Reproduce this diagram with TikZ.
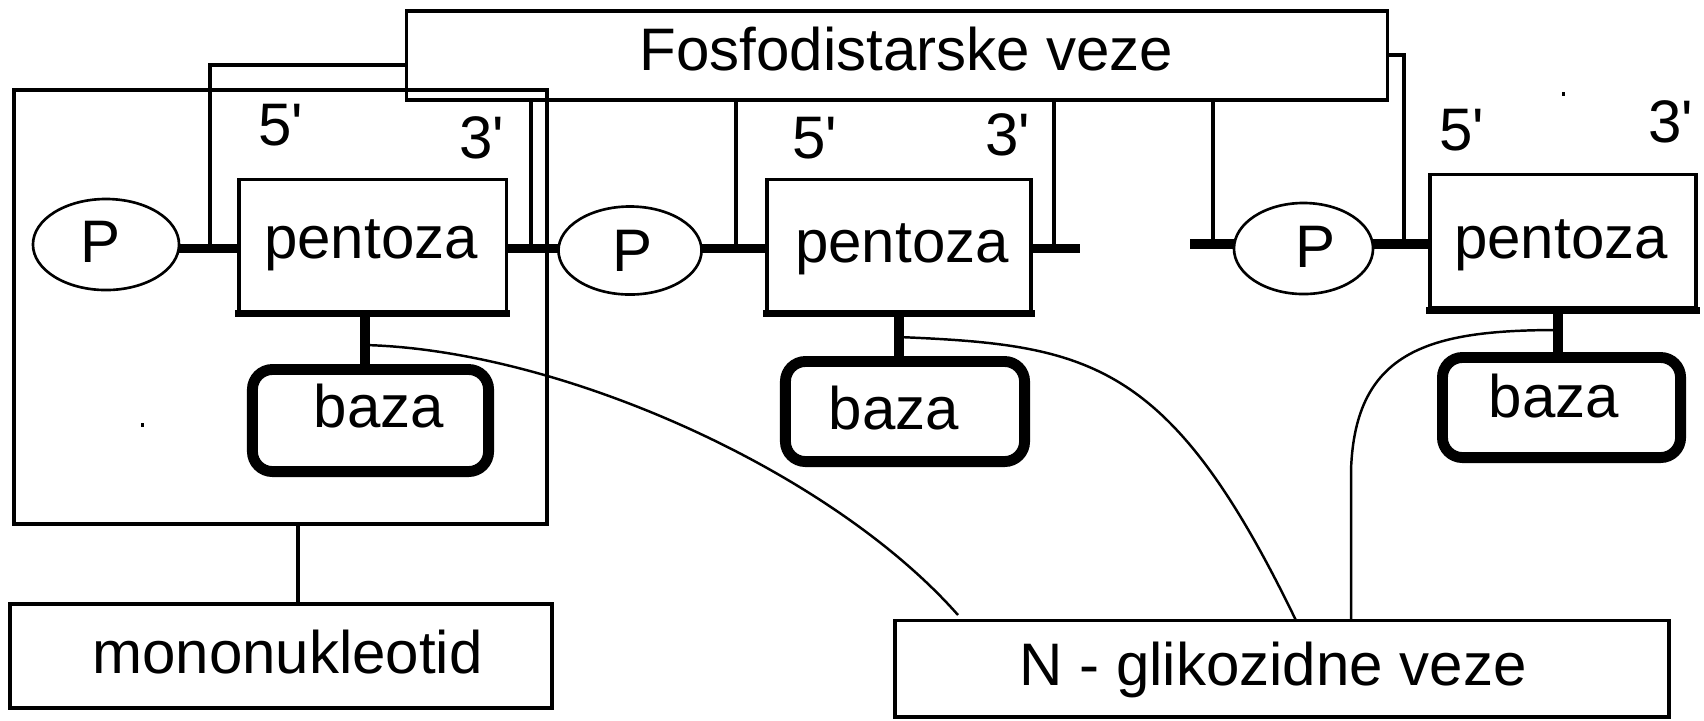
\documentclass[tikz,border=0pt]{standalone}
\usepackage{fontspec}
\setmainfont{Liberation Sans}
\usetikzlibrary{shapes.geometric}
\begin{document}
\begin{tikzpicture}[x=0.01cm,y=-0.01cm,
  every node/.style={inner sep=0pt, outer sep=0pt},
  frame/.style={draw, line width=1pt, rectangle},
  penbox/.style={draw, line width=1pt, rectangle},
  pgroup/.style={draw, line width=0.75pt, ellipse},
  bazabox/.style={draw, line width=3.1pt, rounded corners=0.2cm, rectangle},
  bond/.style={line width=2.6pt},
  stembar/.style={line width=3.1pt},
  link/.style={line width=1pt},
  curvelink/.style={line width=0.7pt},
  penbottom/.style={line width=2pt, line cap=rect},
  lbl/.style={anchor=base, font=\fontsize{17.07pt}{20pt}\selectfont}
]
\useasboundingbox (0,0) rectangle (1704,720);

% frames and boxes
\node[frame, minimum width=9.80cm, minimum height=0.89cm] (fos) at (897,55.5) {};
\node[lbl] (fost) at (906.5,70) {Fosfodistarske veze};
\node[frame, minimum width=5.33cm, minimum height=4.34cm] (nuc) at (280.5,307) {};
\node[frame, minimum width=5.415cm, minimum height=1.04cm] (mono) at (281,656) {};
\node[lbl] (monot) at (287.5,673) {mononukleotid};
\node[frame, minimum width=7.735cm, minimum height=0.965cm] (gly) at (1281.75,668.75) {};
\node[lbl] (glyt) at (1273,685) {N - glikozidne veze};

% pentoses
\node[penbox, minimum width=2.675cm, minimum height=1.32cm] (pen1) at (372.75,245.5) {};
\node[penbox, minimum width=2.64cm, minimum height=1.32cm] (pen2) at (899,245.5) {};
\node[penbox, minimum width=2.66cm, minimum height=1.335cm] (pen3) at (1563,241.25) {};
\draw[penbottom] ([yshift=-0.02cm]pen1.south west) -- ([yshift=-0.02cm]pen1.south east);
\draw[penbottom] ([yshift=-0.02cm]pen2.south west) -- ([yshift=-0.02cm]pen2.south east);
\draw[penbottom] ([yshift=-0.02cm]pen3.south west) -- ([yshift=-0.02cm]pen3.south east);
\node[lbl] (pt1) at (371,258) {pentoza};
\node[lbl] (pt2) at (902,262) {pentoza};
\node[lbl] (pt3) at (1561,258) {pentoza};

% phosphates
\node[pgroup, minimum width=1.46cm, minimum height=0.91cm] (P1) at (106,244.5) {};
\node[pgroup, minimum width=1.43cm, minimum height=0.88cm] (P2) at (630,250.5) {};
\node[pgroup, minimum width=1.39cm, minimum height=0.91cm] (P3) at (1303.5,248.5) {};
\node[lbl] (Pt1) at (101,262) {P};
\node[lbl] (Pt2) at (633,271) {P};
\node[lbl] (Pt3) at (1315,267) {P};

% bases
\node[bazabox, minimum width=2.36cm, minimum height=1.02cm] (baza1) at (370.5,420.5) {};
\node[bazabox, minimum width=2.39cm, minimum height=1.00cm] (baza2) at (905,411.5) {};
\node[bazabox, minimum width=2.38cm, minimum height=1.00cm] (baza3) at (1561.5,407.5) {};
\node[lbl] (bt1) at (379,427) {baza};
\node[lbl] (bt2) at (894,429) {baza};
\node[lbl] (bt3) at (1554,417) {baza};

% 5' / 3' labels
\node[lbl] (a5) at (281,145) {5\textquotesingle};
\node[lbl] (a3) at (482,158) {3\textquotesingle};
\node[lbl] (b5) at (815,158) {5\textquotesingle};
\node[lbl] (b3) at (1008,155) {3\textquotesingle};
\node[lbl] (c5) at (1462,150) {5\textquotesingle};
\node[lbl] (c3) at (1671,142) {3\textquotesingle};

% bond levels
\coordinate (yb) at (0,248.5);
\coordinate (yc) at (0,244);
\coordinate (t4) at (1080,248.5);
\coordinate (t5) at (1190,244);

\draw[bond] (P1.east |- yb) -- (pen1.west |- yb);
\draw[bond] (pen1.east |- yb) -- (P2.west |- yb);
\draw[bond] (P2.east |- yb) -- (pen2.west |- yb);
\draw[bond] (pen2.east |- yb) -- (t4);
\draw[bond] (t5) -- (P3.west |- yc);
\draw[bond] (P3.east |- yc) -- (pen3.west |- yc);

% phosphodiester links
\coordinate (h1) at (0,65);
\coordinate (h6) at (0,55);
\coordinate (j1) at (210,248.5);
\coordinate (j2) at (531,248.5);
\coordinate (j3) at (736,248.5);
\coordinate (j4) at (1054,248.5);
\coordinate (j5) at (1213,244);
\coordinate (j6) at (1404,244);
\draw[link] (fos.west |- h1) -| (j1);
\draw[link] (fos.south -| j2) -- (j2);
\draw[link] (fos.south -| j3) -- (j3);
\draw[link] (fos.south -| j4) -- (j4);
\draw[link] (fos.south -| j5) -- (j5);
\draw[link] (fos.east |- h6) -| (j6);

% stems pentoza -> baza
\coordinate (s1) at (365,0);
\coordinate (s2) at (899,0);
\coordinate (s3) at (1558,0);
\draw[stembar] (pen1.south -| s1) -- (baza1.north -| s1);
\draw[stembar] (pen2.south -| s2) -- (baza2.north -| s2);
\draw[stembar] (pen3.south -| s3) -- (baza3.north -| s3);

% mononukleotid link
\coordinate (m1) at (298,0);
\draw[link] (nuc.south -| m1) -- (mono.north -| m1);

% N-glycosidic links
\coordinate (g1) at (365,345);
\coordinate (e1) at (958,615);
\coordinate (g2) at (899,337);
\coordinate (e2) at (1296,0);
\coordinate (g3) at (1558,330);
\coordinate (e3) at (1351,0);
\draw[curvelink] (g1) .. controls (560,350) and (830,470) .. (e1);
\draw[curvelink] (g2) .. controls (1090,345) and (1170,360) .. (gly.north -| e2);
\draw[curvelink] (g3) .. controls (1430,330) and (1355,350) .. (1351,470) -- (gly.north -| e3);

% small specks
\fill (141,423) rectangle (144,427);
\fill (1562,92) rectangle (1565,96);
\draw[curvelink] (baza3.south -| s3) -- ++(0,5);
\end{tikzpicture}
\end{document}
